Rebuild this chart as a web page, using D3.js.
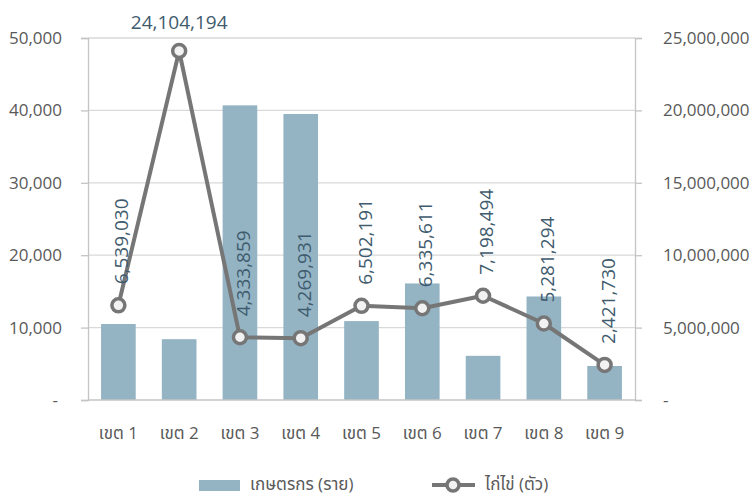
<!DOCTYPE html>
<html><head><meta charset="utf-8">
<script src="https://cdn.jsdelivr.net/npm/d3@7"></script>
<style>
body{margin:0;background:#fff;}
svg{display:block;font-family:"Open Sans","Noto Sans Thai","Noto Sans",sans-serif;}
</style></head>
<body><svg id="c" width="750" height="495"></svg>
<script>
const categories = ["เขต 1","เขต 2","เขต 3","เขต 4","เขต 5","เขต 6","เขต 7","เขต 8","เขต 9"];
const farmers = [10500, 8400, 40700, 39500, 10900, 16100, 6100, 14300, 4700];
const hens = [6539030, 24104194, 4333859, 4269931, 6502191, 6335611, 7198494, 5281294, 2421730];
const leftTicks = [0, 10000, 20000, 30000, 40000, 50000];
const rightTicks = [0, 5000000, 10000000, 15000000, 20000000, 25000000];
const seriesNames = ["เกษตรกร (ราย)", "ไก่ไข่ (ตัว)"];

const svg = d3.select("#c");
const L = 88, R = 635, T = 38, B = 400;
const x = d3.scaleBand().domain(categories).range([L, R]).paddingInner(0.43).paddingOuter(0.215);
const yL = d3.scaleLinear().domain([0, 50000]).range([B, T]);
const yR = d3.scaleLinear().domain([0, 25000000]).range([B, T]);
const fmt = d3.format(",");
const cx = d => x(d) + x.bandwidth() / 2;

// gridlines
svg.append("g").selectAll("line").data(leftTicks.filter(d => d > 0)).join("line")
  .attr("x1", L).attr("x2", R).attr("y1", d => yL(d)).attr("y2", d => yL(d))
  .attr("stroke", "#d9d9d9").attr("stroke-width", 1.3);

// bars
svg.append("g").selectAll("rect").data(farmers).join("rect")
  .attr("x", (d, i) => x(categories[i])).attr("width", x.bandwidth())
  .attr("y", d => yL(d)).attr("height", d => B - yL(d))
  .attr("fill", "#94b4c4");

// axes
const axL = svg.append("g").attr("transform", `translate(${L},0)`)
  .call(d3.axisLeft(yL).tickValues(leftTicks).tickSize(7).tickPadding(19).tickFormat(d => d === 0 ? "-" : fmt(d)));
const axR = svg.append("g").attr("transform", `translate(${R},0)`)
  .call(d3.axisRight(yR).tickValues(rightTicks).tickSize(7).tickPadding(21).tickFormat(d => d === 0 ? "-" : fmt(d)));
[axL, axR].forEach(a => {
  a.select(".domain").attr("stroke", "#c4c4c4").attr("stroke-width", 1.3);
  a.selectAll(".tick line").attr("stroke", "#c4c4c4").attr("stroke-width", 1.3);
  a.selectAll(".tick text").attr("fill", "#595959").style("font-size", "17px").style("font-family", "Open Sans");
});
axL.selectAll(".tick text").filter(d => d === 0).attr("dx", -4);
// category baseline
svg.append("line").attr("x1", L).attr("x2", R).attr("y1", B).attr("y2", B)
  .attr("stroke", "#c4c4c4").attr("stroke-width", 1.3);

// category labels
svg.append("g").selectAll("text").data(categories).join("text")
  .attr("x", d => cx(d)).attr("y", 439).attr("text-anchor", "middle")
  .attr("fill", "#595959").style("font-size", "17px").text(d => d);

// line
const line = d3.line().x((d, i) => cx(categories[i])).y(d => yR(d));
svg.append("path").datum(hens).attr("d", line).attr("fill", "none")
  .attr("stroke", "#767676").attr("stroke-width", 4).attr("stroke-linejoin", "round");
svg.append("g").selectAll("circle").data(hens).join("circle")
  .attr("cx", (d, i) => cx(categories[i])).attr("cy", d => yR(d)).attr("r", 6.5)
  .attr("fill", "#f2f2f2").attr("stroke", "#767676").attr("stroke-width", 3.5);

// data labels
const lab = svg.append("g").style("font-size", "19px").attr("fill", "#3f5b6e");
hens.forEach((v, i) => {
  const px = cx(categories[i]), py = yR(v);
  if (i === 1) {
    lab.append("text").attr("x", px).attr("y", py - 22).attr("text-anchor", "middle").text(fmt(v));
  } else {
    lab.append("text").attr("transform", `translate(${px + 3},${py - 21}) rotate(-90)`)
      .attr("dominant-baseline", "central").attr("text-anchor", "start").text(fmt(v));
  }
});

// legend
const lg = svg.append("g");
lg.append("rect").attr("x", 199).attr("y", 480).attr("width", 41).attr("height", 11).attr("fill", "#94b4c4");
lg.append("text").attr("x", 250).attr("y", 490).attr("fill", "#595959").style("font-size", "17px").text(seriesNames[0]);
lg.append("line").attr("x1", 432).attr("x2", 475).attr("y1", 485).attr("y2", 485).attr("stroke", "#767676").attr("stroke-width", 4);
lg.append("circle").attr("cx", 453).attr("cy", 485).attr("r", 6).attr("fill", "#f2f2f2").attr("stroke", "#767676").attr("stroke-width", 3.5);
lg.append("text").attr("x", 485).attr("y", 490).attr("fill", "#595959").style("font-size", "17px").text(seriesNames[1]);
</script></body></html>
